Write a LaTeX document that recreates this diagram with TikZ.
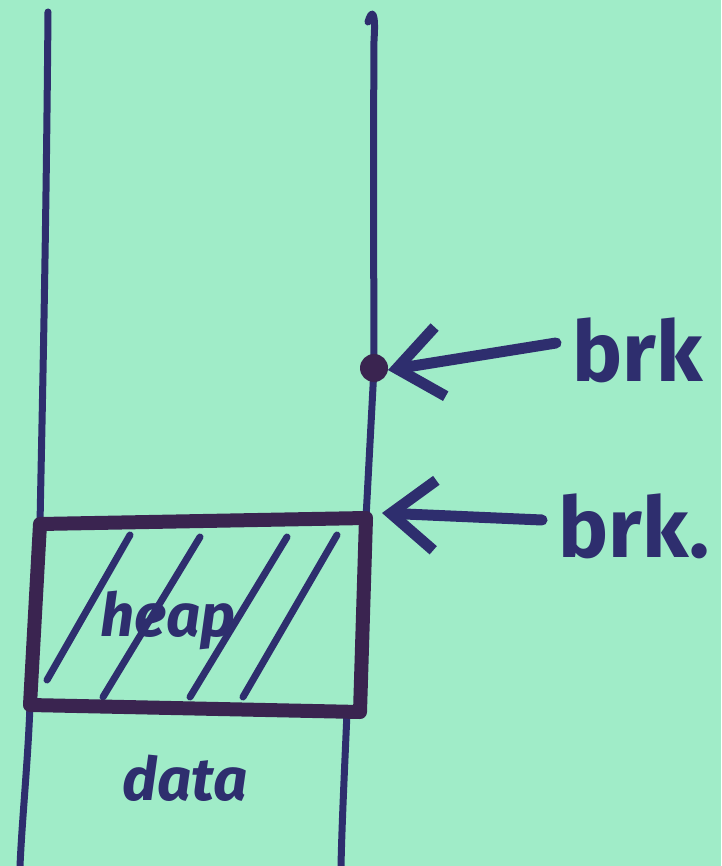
\documentclass[tikz,border=0pt]{standalone}
\usepackage{fontspec}
\setmainfont{Fira Sans}
\usetikzlibrary{arrows.meta}
\definecolor{paper}{RGB}{160,236,200}
\definecolor{ink}{RGB}{46,46,110}
\definecolor{inkdark}{RGB}{58,36,80}
\tikzset{
  pen/.style={draw=ink, line width=7pt, line cap=round, line join=round},
  boxpen/.style={draw=inkdark, line width=14pt, line cap=round, line join=round},
  hatchpen/.style={draw=ink, line width=7pt, line cap=round},
  pointer/.style={draw=ink, line width=11pt, line cap=round,
    -{Straight Barb[length=44pt, width=70pt, line width=11pt]}},
  hand/.style={text=ink, inner sep=0pt, font=\fontsize{84}{86}\selectfont\bfseries},
  handsmall/.style={text=ink, inner sep=0pt, font=\fontsize{60}{62}\selectfont\bfseries\itshape},
}
\begin{document}
\begin{tikzpicture}[x=1pt,y=-1pt]
  % paper
  \fill[paper] (0,0) rectangle (721,866);
  \useasboundingbox (0,0) rectangle (721,866);

  % corners of the heap box
  \coordinate (tl) at (40,524);
  \coordinate (tr) at (366,518);
  \coordinate (bl) at (30,705);
  \coordinate (br) at (360,712);
  \coordinate (brkdot) at (374,368);
  \coordinate (wallfoot) at (347,712);

  % the two walls of the address space
  \draw[pen] (48,12) .. controls (46,250) and (42,420) .. (tl);
  \draw[pen] (bl) .. controls (28,760) and (22,820) .. (20,866);
  \draw[pen] (368,22) .. controls (372,8) and (376,12) .. (374,40)
             .. controls (373,200) and (374,300) .. (brkdot)
             -- (tr);
  \draw[pen] (wallfoot) .. controls (345,760) and (342,820) .. (341,866);

  % hatching inside the heap
  \draw[hatchpen] (47,680) -- (130,535);
  \draw[hatchpen] (103,697) -- (200,537);
  \draw[hatchpen] (190,697) -- (287,537);
  \draw[hatchpen] (243,697) -- (337,535);

  % heap box
  \draw[boxpen] (tl) -- (tr) -- (br) -- (bl) -- cycle;

  % current break marker
  \fill[inkdark] (brkdot) circle (14pt);

  % labels
  \node[handsmall] (heap) at (168,620) {heap};
  \node[handsmall] (data) at (185,778) {data};
  \node[hand, anchor=west] (brk1) at (572,350) {brk};
  \node[hand, anchor=west] (brk2) at (558,526) {brk.};

  % arrows towards the break
  \coordinate (a1) at (556,343);
  \coordinate (a2) at (542,520);
  \draw[pointer] (a1) -- ([xshift=14pt,yshift=-2pt]brkdot);
  \draw[pointer] (a2) -- ([xshift=16pt,yshift=5pt]tr);
\end{tikzpicture}
\end{document}
